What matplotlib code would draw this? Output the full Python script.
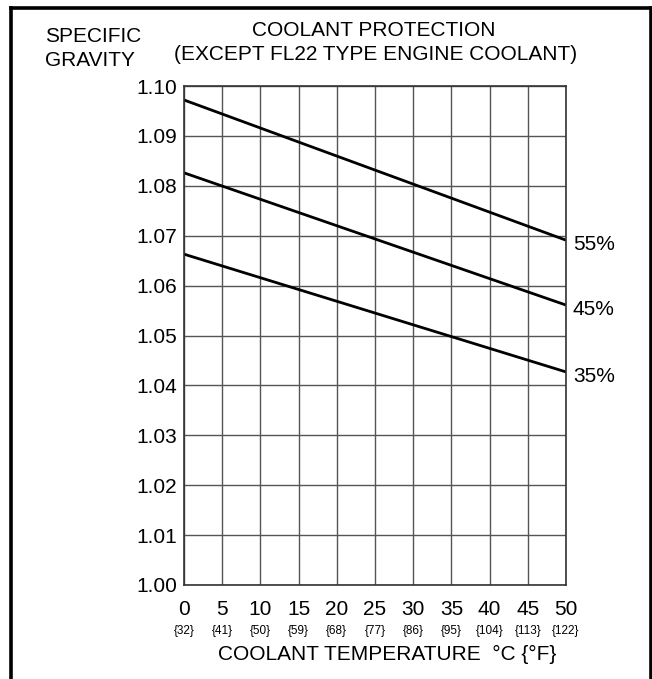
import matplotlib
matplotlib.use('Agg')
import matplotlib.pyplot as plt
from matplotlib.lines import Line2D

plt.rcParams['font.family'] = ['Liberation Sans', 'DejaVu Sans']

# Datos
temp_c = [0, 50]
temp_f = [32, 41, 50, 59, 68, 77, 86, 95, 104, 113, 122]
x_ticks = [0, 5, 10, 15, 20, 25, 30, 35, 40, 45, 50]
y_ticks = [1.00, 1.01, 1.02, 1.03, 1.04, 1.05, 1.06, 1.07, 1.08, 1.09, 1.10]
series_labels = ['55%', '45%', '35%']
sg_55 = [1.0972, 1.0691]
sg_45 = [1.0826, 1.0561]
sg_35 = [1.0663, 1.0427]

W, H = 652, 679
fig = plt.figure(figsize=(W / 100, H / 100), dpi=100)
ax = fig.add_axes([184 / W, 1 - 585 / H, 382 / W, 499 / H])

ax.set_xlim(0, 50)
ax.set_ylim(1.00, 1.10)
ax.set_xticks(x_ticks)
ax.set_yticks(y_ticks)
ax.set_xticklabels([str(t) for t in x_ticks], fontsize=15)
ax.set_yticklabels(['%.2f' % t for t in y_ticks], fontsize=15)
ax.tick_params(axis='x', length=0, pad=11)
ax.tick_params(axis='y', length=0, pad=5)
ax.grid(True, color='#555555', linewidth=1)
ax.set_axisbelow(True)
for s in ax.spines.values():
    s.set_color('#333333')
    s.set_linewidth(1.2)

for vals, lab in zip([sg_55, sg_45, sg_35], series_labels):
    ax.plot(temp_c, vals, color='black', linewidth=2, solid_capstyle='butt')
    ax.annotate(lab, xy=(temp_c[-1], vals[-1]), xytext=(5, -3),
                textcoords='offset points', fontsize=15, va='center', ha='left',
                annotation_clip=False)

# Fahrenheit bajo los grados
for xc, f in zip(x_ticks, temp_f):
    ax.annotate('{%d}' % f, xy=(xc, 1.00), xytext=(0, -33),
                textcoords='offset points', fontsize=8.5, ha='center', va='center',
                annotation_clip=False)

fig.text(387 / W, 1 - 654 / H, 'COOLANT TEMPERATURE  \u00b0C {\u00b0F}',
         fontsize=15, ha='center', va='center')
fig.text(45 / W, 1 - 36.5 / H, 'SPECIFIC', fontsize=15, ha='left', va='center')
fig.text(45 / W, 1 - 60 / H, 'GRAVITY', fontsize=15, ha='left', va='center')
fig.text(374 / W, 1 - 30.5 / H, 'COOLANT PROTECTION', fontsize=15,
         ha='center', va='center')
fig.text(376 / W, 1 - 54 / H, '(EXCEPT FL22 TYPE ENGINE COOLANT)', fontsize=15,
         ha='center', va='center')

# Marco exterior (sin borde inferior, recortado)
lx, rx, ty = 10.5 / W, 650.5 / W, 1 - 8 / H
for xs, ys in [([lx, lx], [0, ty]), ([lx, rx], [ty, ty]), ([rx, rx], [ty, 0])]:
    fig.add_artist(Line2D(xs, ys, transform=fig.transFigure, color='black',
                          linewidth=2.6, solid_joinstyle='miter'))

fig.savefig('out.png', dpi=100)
